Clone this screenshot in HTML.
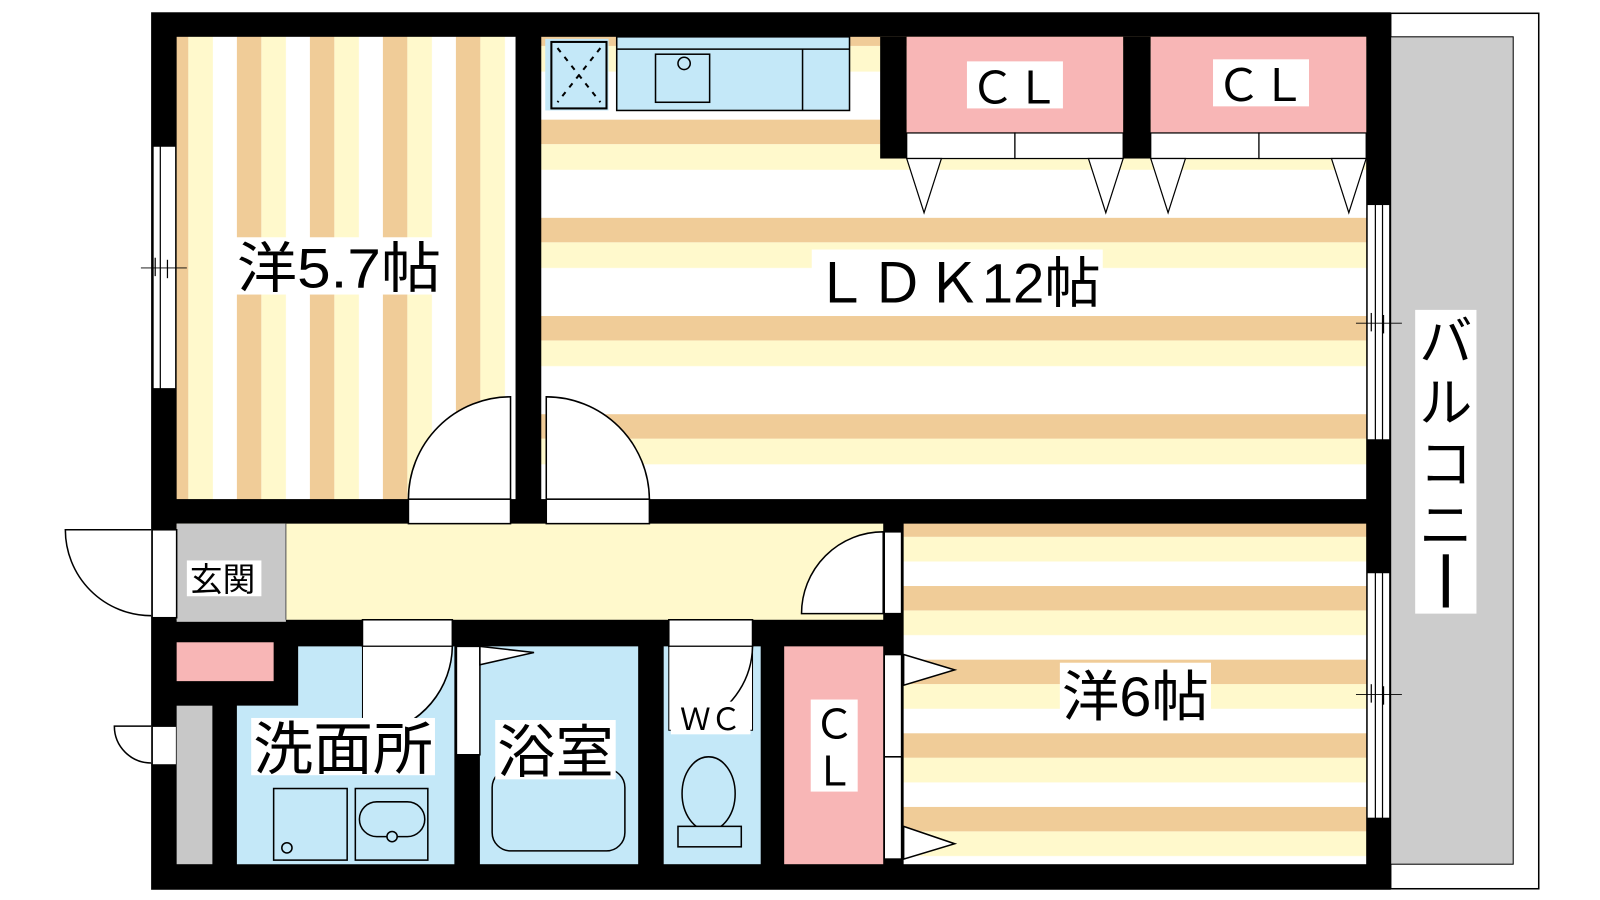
<!DOCTYPE html>
<html><head><meta charset="utf-8"><style>
html,body{margin:0;padding:0;background:#fff;width:1600px;height:900px;overflow:hidden}
svg{display:block}
text{font-family:"Liberation Sans","Noto Sans CJK JP",sans-serif;fill:#000}
</style></head><body>
<svg width="1600" height="900" viewBox="0 0 1567 880" preserveAspectRatio="none" xmlns="http://www.w3.org/2000/svg">
<defs>
<pattern id="pv" patternUnits="userSpaceOnUse" x="232" y="0" width="71.5" height="10">
<rect width="71.5" height="10" fill="#fff"/><rect width="24" height="10" fill="#f0cc98"/><rect x="24" width="24" height="10" fill="#fff9cc"/></pattern>
<pattern id="ph" patternUnits="userSpaceOnUse" x="0" y="21" width="10" height="96">
<rect width="10" height="96" fill="#fff"/><rect width="10" height="24" fill="#f0cc98"/><rect y="24" width="10" height="25" fill="#fff9cc"/></pattern>
<pattern id="p6" patternUnits="userSpaceOnUse" x="0" y="501" width="10" height="72">
<rect width="10" height="72" fill="#fff"/><rect width="10" height="24" fill="#f0cc98"/><rect y="24" width="10" height="24" fill="#fff9cc"/></pattern>
</defs>
<rect x="1362" y="13" width="145" height="856" fill="#fff" stroke="#000" stroke-width="1.5"/>
<rect x="1362" y="36" width="120" height="809" fill="#cccccc" stroke="#000" stroke-width="1"/>
<rect x="148" y="12" width="1214" height="858" fill="#000"/>
<rect x="173" y="36" width="332" height="452" fill="url(#pv)"/>
<rect x="530" y="36" width="808" height="452" fill="url(#ph)"/>
<rect x="885" y="512" width="453" height="333" fill="url(#p6)"/>
<rect x="173" y="512" width="692" height="94" fill="#fff9cc"/>
<rect x="173" y="512" width="107" height="96" fill="#c8c8c8"/>
<line x1="280" y1="512" x2="280" y2="606" stroke="#555" stroke-width="1"/>
<rect x="862" y="36" width="26" height="119" fill="#000"/>
<rect x="888" y="36" width="212" height="94" fill="#f8b6b6"/>
<rect x="1100" y="36" width="27" height="119" fill="#000"/>
<rect x="1127" y="36" width="211" height="94" fill="#f8b6b6"/>
<g fill="#fff" stroke="#000" stroke-width="1.2">
<rect x="888" y="130" width="106" height="25"/><rect x="994" y="130" width="106" height="25"/>
<rect x="1127" y="130" width="106" height="25"/><rect x="1233" y="130" width="105" height="25"/>
<polygon points="888,155 922,155 905,208"/><polygon points="1066,155 1100,155 1083,208"/>
<polygon points="1127,155 1161,155 1144,208"/><polygon points="1304,155 1338,155 1321,208"/>
</g>
<rect x="505" y="36" width="25" height="470" fill="#000"/>
<g fill="#fff" stroke="#000" stroke-width="1.5">
<rect x="400" y="488" width="100" height="24"/>
<rect x="535" y="488" width="101" height="24"/>
<path d="M500,488 L400,488 A100,100 0 0 1 500,388 Z"/>
<path d="M535,488 L636,488 A101,101 0 0 0 535,388 Z"/>
</g>
<rect x="534" y="38" width="62" height="70" fill="#c4e8f8"/>
<rect x="540" y="41" width="54" height="65" fill="none" stroke="#000" stroke-width="2"/>
<line x1="546" y1="47" x2="588" y2="100" stroke="#000" stroke-width="2" stroke-dasharray="5,6"/>
<line x1="588" y1="47" x2="546" y2="100" stroke="#000" stroke-width="2" stroke-dasharray="5,6"/>
<rect x="604" y="36" width="228" height="72" fill="#c4e8f8" stroke="#000" stroke-width="1.5"/>
<line x1="604" y1="48" x2="832" y2="48" stroke="#000" stroke-width="1.5"/>
<line x1="786" y1="48" x2="786" y2="108" stroke="#000" stroke-width="1.5"/>
<rect x="642" y="53" width="53" height="47" fill="none" stroke="#000" stroke-width="1.5"/>
<circle cx="670" cy="62" r="6" fill="none" stroke="#000" stroke-width="1.5"/>
<g fill="#fff" stroke="#000" stroke-width="1">
<rect x="150" y="143" width="22" height="237"/>
<rect x="1339" y="200" width="22" height="230"/>
<rect x="1339" y="560" width="22" height="240"/>
</g>
<g stroke="#000" stroke-width="1.2">
<line x1="157" y1="143" x2="157" y2="380"/>
<line x1="1347" y1="200" x2="1347" y2="430"/><line x1="1354" y1="200" x2="1354" y2="430"/>
<line x1="1347" y1="560" x2="1347" y2="800"/><line x1="1354" y1="560" x2="1354" y2="800"/>
<line x1="138" y1="262" x2="183" y2="262" stroke-width="0.8"/><line x1="152" y1="252" x2="152" y2="270"/><line x1="164" y1="254" x2="164" y2="272"/>
<line x1="1328" y1="316" x2="1373" y2="316" stroke-width="0.8"/><line x1="1343" y1="306" x2="1343" y2="324"/><line x1="1355" y1="308" x2="1355" y2="326"/>
<line x1="1328" y1="679" x2="1373" y2="679" stroke-width="0.8"/><line x1="1343" y1="669" x2="1343" y2="687"/><line x1="1355" y1="671" x2="1355" y2="689"/>
</g>
<g fill="#fff" stroke="#000" stroke-width="1.5">
<rect x="149" y="518" width="24" height="86"/>
<path d="M148,518 L64,518 A84,84 0 0 0 148,602"/>
<rect x="149" y="710" width="24" height="38"/>
<path d="M148,710 L112,710 A36,36 0 0 0 148,746"/>
</g>
<rect x="173" y="628" width="95" height="38" fill="#f8b6b6"/>
<rect x="173" y="690" width="35" height="155" fill="#c8c8c8"/>
<path d="M232,690 L292,690 L292,632 L445,632 L445,845 L232,845 Z" fill="#c4e8f8"/>
<rect x="470" y="632" width="155" height="213" fill="#c4e8f8"/>
<rect x="650" y="632" width="95" height="213" fill="#c4e8f8"/>
<rect x="768" y="632" width="97" height="213" fill="#f8b6b6"/>
<g fill="#fff" stroke="#000" stroke-width="1.5">
<rect x="355" y="606" width="88" height="26"/>
<path d="M355,632 L443,632 A88,88 0 0 1 370,718 L355,718 Z" stroke-width="1"/>
<path d="M443,632 A88,88 0 0 1 372,717" fill="none"/>
<rect x="447" y="632" width="23" height="106"/>
<polygon points="470,632 523,638 470,650"/>
<rect x="655" y="606" width="82" height="26"/>
<path d="M655,632 L737,632 L737,714 L655,714 Z" stroke-width="1"/>
<path d="M737,632 A82,82 0 0 1 690,705" fill="none"/>
</g>
<g fill="none" stroke="#000" stroke-width="1.5">
<rect x="268" y="771" width="72" height="70"/>
<circle cx="281" cy="829" r="5"/>
<rect x="348" y="771" width="71" height="70"/>
<rect x="352" y="784" width="64" height="34" rx="17"/>
<circle cx="384" cy="818" r="5" fill="#c4e8f8"/>
<rect x="482" y="752" width="130" height="80" rx="18"/>
<ellipse cx="694" cy="776" rx="26" ry="36" fill="#c4e8f8"/>
<rect x="664" y="808" width="62" height="20" fill="#c4e8f8"/>
</g>
<g fill="#fff" stroke="#000" stroke-width="1.5">
<rect x="866" y="520" width="17" height="80"/>
<path d="M865,600 L785,600 A80,80 0 0 1 865,520 Z"/>
<rect x="866" y="640" width="17" height="100"/>
<rect x="866" y="740" width="17" height="100"/>
<polygon points="885,640 935,655 885,670"/>
<polygon points="885,808 935,825 885,840"/>
</g>
<rect x="947" y="60" width="94" height="46" fill="#fff"/>
<text x="994" y="101" font-size="44" text-anchor="middle">ＣＬ</text>
<rect x="1188" y="58" width="94" height="46" fill="#fff"/>
<text x="1235" y="99" font-size="44" text-anchor="middle">ＣＬ</text>
<rect x="230" y="232" width="205" height="56" fill="#fff"/>
<text x="232" y="281" font-size="54" textLength="200" lengthAdjust="spacingAndGlyphs">洋5.7帖</text>
<rect x="795" y="244" width="285" height="58" fill="#fff"/>
<text x="796" y="296" font-size="54" textLength="282" lengthAdjust="spacingAndGlyphs">ＬＤＫ12帖</text>
<rect x="1038" y="648" width="148" height="58" fill="#fff"/>
<text x="1040" y="700" font-size="54" textLength="144" lengthAdjust="spacingAndGlyphs">洋6帖</text>
<rect x="1386" y="303" width="60" height="297" fill="#fff"/>
<text font-size="52" text-anchor="middle"><tspan x="1416" y="352">バ</tspan><tspan x="1416" y="412">ル</tspan><tspan x="1416" y="472">コ</tspan><tspan x="1416" y="532">ニ</tspan></text>
<rect x="1413" y="542" width="6" height="52" fill="#000"/>
<rect x="183" y="548" width="73" height="35" fill="#fff"/>
<text x="186" y="578" font-size="32">玄関</text>
<rect x="246" y="702" width="180" height="56" fill="#fff"/>
<text x="248" y="752" font-size="56" textLength="176" lengthAdjust="spacingAndGlyphs">洗面所</text>
<rect x="485" y="704" width="118" height="58" fill="#fff"/>
<text x="487" y="755" font-size="56" textLength="114" lengthAdjust="spacingAndGlyphs">浴室</text>
<rect x="657" y="686" width="78" height="32" fill="#fff"/>
<text x="696" y="714" font-size="30" text-anchor="middle">ＷＣ</text>
<rect x="794" y="684" width="46" height="90" fill="#fff"/>
<text font-size="40" text-anchor="middle"><tspan x="817" y="722">Ｃ</tspan><tspan x="817" y="768">Ｌ</tspan></text>
</svg>
</body></html>
